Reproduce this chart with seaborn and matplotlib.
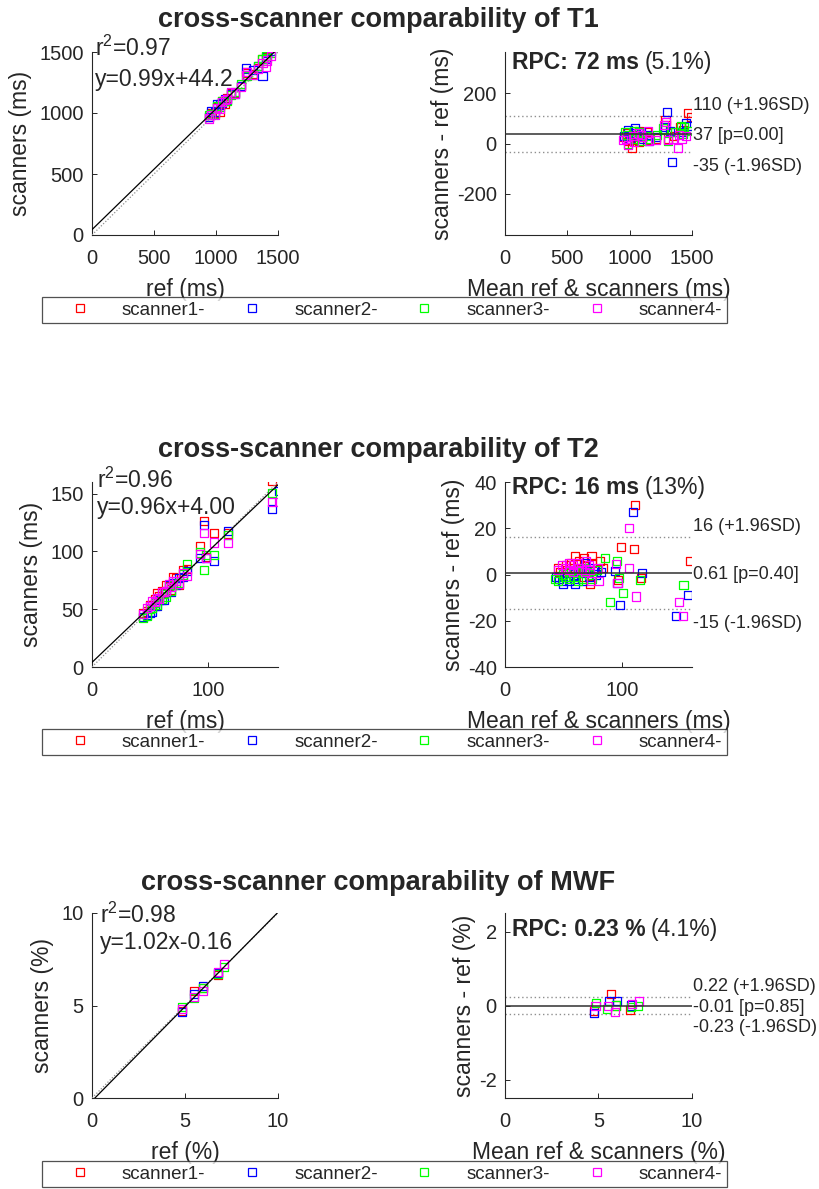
import numpy as np
import pandas as pd
import matplotlib
matplotlib.use("Agg")
import matplotlib.pyplot as plt
import matplotlib.transforms as mtransforms
from matplotlib.lines import Line2D
import seaborn as sns

# ---------------- data ----------------
scanners = ["scanner1-", "scanner2-", "scanner3-", "scanner4-"]
colors = ["#FF0000", "#0000FF", "#00FF00", "#FF00FF"]

# T1 (ms): reference value per ROI and scanner-minus-reference differences
t1_ref = [940, 960, 990, 1010, 1030, 1050, 1070, 1090, 1120, 1150,
          1200, 1240, 1250, 1300, 1340, 1375, 1400, 1410, 1440]
t1_s1 = [25, 40, 10, 35, -19, 50, 5, 30, 45, 15, 20, 95, 75, 20, 30, 65, 55, 120, 105]
t1_s2 = [30, 52, 20, 60, 40, 30, 45, 20, 35, 10, 25, 125, 65, 50, 45, -75, 45, 80, 70]
t1_s3 = [45, 35, 0, 50, 20, 45, 25, 10, 30, 20, 35, 60, 55, 10, 45, 70, 65, 40, 50]
t1_s4 = [15, 20, -5, 30, 5, 40, 35, 25, 50, 10, 15, 75, 85, 15, 20, 35, -19, 20, 30]

# T2 (ms)
t2_ref = [44, 47, 50, 52, 54, 56, 58, 60, 62, 64, 66, 68, 70, 72, 75, 78, 82,
          93, 96, 98, 105, 117, 155, 161]
t2_s1 = [3, 1, 4, 2, 5, 8, 3, 6, 2, 7, 4, -1, 8, 5, -4, 6, 3,
         12, 30, -2.5, 11, -1.5, 6, np.nan]
t2_s2 = [-1, -2, -3, -4, -1, -3, 0, -2, -4, 1, 5, -3, 3, -1, 2, 0, 1,
         1.5, 27, -3.5, -13, 0.5, -18, -9]
t2_s3 = [-2, -3, 0, -1, 1, -2, 2, -1, 1, -3, 3, -2, 1, 0, -2, 2, 7,
         6, -12, -1.5, -8, -2.5, -4.5, np.nan]
t2_s4 = [2, 4, 3, 5, 2, 4, 1, 5, 3, 2, 6, 1, 4, 2, -3, 3, -3,
         4.5, 20, -3.5, 2.7, -9.5, -12, -18]

# MWF (%)
mwf_ref = [4.85, 5.5, 5.95, 6.75, 7.1]
mwf_s1 = [-0.15, 0.30, 0.00, -0.12, np.nan]
mwf_s2 = [-0.21, 0.12, 0.12, 0.00, np.nan]
mwf_s3 = [0.07, -0.09, 0.00, -0.05, -0.02]
mwf_s4 = [-0.02, -0.02, -0.17, 0.05, 0.12]

metrics = ["T1", "T2", "MWF"]
units = ["ms", "ms", "%"]
refs = [t1_ref, t2_ref, mwf_ref]
diffs = [[t1_s1, t1_s2, t1_s3, t1_s4],
         [t2_s1, t2_s2, t2_s3, t2_s4],
         [mwf_s1, mwf_s2, mwf_s3, mwf_s4]]
r2_vals = ["0.97", "0.96", "0.98"]
fit_slope = [0.99, 0.96, 1.02]
fit_icpt = [44.2, 4.00, -0.16]
fit_text = ["y=0.99x+44.2", "y=0.96x+4.00", "y=1.02x-0.16"]
rpc_bold = ["RPC: 72 ms", "RPC: 16 ms", "RPC: 0.23 %"]
rpc_pct = ["(5.1%)", "(13%)", "(4.1%)"]
bias = [37, 0.61, -0.01]
loa_hi = [110, 16.3, 0.22]
loa_lo = [-35, -15.1, -0.23]
bias_text = ["37 [p=0.00]", "0.61 [p=0.40]", "-0.01 [p=0.85]"]
hi_text = ["110 (+1.96SD)", "16 (+1.96SD)", "0.22 (+1.96SD)"]
lo_text = ["-35 (-1.96SD)", "-15 (-1.96SD)", "-0.23 (-1.96SD)"]

# ---------------- layout / style ----------------
sns.set_theme(style="white")
plt.rcParams["font.family"] = ["Liberation Sans", "DejaVu Sans"]
plt.rcParams["axes.unicode_minus"] = False

W, H = 820, 1189
AX = "#262626"
fig = plt.figure(figsize=(W / 100, H / 100), dpi=100)


def add_ax(x0, y0, x1, y1):
    return fig.add_axes([x0 / W, 1 - y1 / H, (x1 - x0) / W, (y1 - y0) / H])


def hollow(ax):
    for c in ax.collections:
        fc = c.get_facecolors()
        c.set_edgecolors(fc)
        c.set_facecolors("none")


def style(ax, xlim, ylim, xticks, yticks):
    ax.set_xlim(xlim)
    ax.set_ylim(ylim)
    ax.set_xticks(xticks)
    ax.set_yticks(yticks)
    for s in ["top", "right"]:
        ax.spines[s].set_visible(False)
    for s in ["left", "bottom"]:
        ax.spines[s].set_color(AX)
        ax.spines[s].set_linewidth(0.8)
    ax.tick_params(direction="in", length=3.5, width=0.7, colors=AX,
                   labelsize=14.5, bottom=True, left=True)
    ax.tick_params(axis="x", pad=10)
    ax.tick_params(axis="y", pad=6)


rows_px = [(52, 235), (482, 667), (913, 1098)]
title_base = [27, 457, 890]
legend_box = [(295, 325), (727, 757), (1160, 1188)]
lims = [dict(x=(0, 1500), yl=(0, 1500), yr=(-365, 365), xt=[0, 500, 1000, 1500],
             ytl=[0, 500, 1000, 1500], ytr=[-200, 0, 200]),
        dict(x=(0, 160), yl=(0, 160), yr=(-40, 40), xt=[0, 100],
             ytl=[0, 50, 100, 150], ytr=[-40, -20, 0, 20, 40]),
        dict(x=(0, 10), yl=(0, 10), yr=(-2.5, 2.5), xt=[0, 5, 10],
             ytl=[0, 5, 10], ytr=[-2, 0, 2])]
r2_pos = [(0.016, 1.02), (0.027, 1.01), (0.043, 0.99)]
eq_pos = [(0.016, 0.847), (0.027, 0.86), (0.043, 0.84)]
rpc_y = [0.94, 0.968, 0.91]

for i, m in enumerate(metrics):
    u = units[i]
    ref = np.array(refs[i], float)
    recs = []
    for k, sc in enumerate(scanners):
        d = np.array(diffs[i][k], float)
        for r_, d_ in zip(ref, d):
            if np.isnan(d_):
                continue
            v_ = r_ + d_
            recs.append(dict(scanner=sc, ref=r_, value=v_, diff=d_, mean=(r_ + v_) / 2))
    df = pd.DataFrame(recs)
    y0, y1 = rows_px[i]
    L = lims[i]

    # ---- correlation panel ----
    axL = add_ax(92, y0, 278, y1)
    sns.scatterplot(data=df, x="ref", y="value", hue="scanner", hue_order=scanners,
                    palette=colors, marker="s", s=34, linewidth=0.9, legend=False,
                    ax=axL, zorder=3)
    hollow(axL)
    xs = np.array(L["x"], float)
    axL.plot(xs, xs, color="#8f8f8f", ls=(0, (1, 1.5)), lw=0.9, zorder=4)
    axL.plot(xs, fit_slope[i] * xs + fit_icpt[i], color="black", lw=0.9, zorder=5)
    style(axL, L["x"], L["yl"], L["xt"], L["ytl"])
    axL.set_xlabel(f"ref ({u})", fontsize=16.5, color=AX, labelpad=7)
    axL.set_ylabel(f"scanners ({u})", fontsize=16.5, color=AX, labelpad=5)
    axL.text(r2_pos[i][0], r2_pos[i][1], r"r$^\mathregular{2}$=" + r2_vals[i],
             transform=axL.transAxes, fontsize=16.5, va="center", ha="left")
    axL.text(eq_pos[i][0], eq_pos[i][1], fit_text[i], transform=axL.transAxes,
             fontsize=16.5, va="center", ha="left")

    # ---- Bland-Altman panel ----
    axR = add_ax(505, y0, 692, y1)
    sns.scatterplot(data=df, x="mean", y="diff", hue="scanner", hue_order=scanners,
                    palette=colors, marker="s", s=34, linewidth=0.9, legend=False,
                    ax=axR, zorder=3)
    hollow(axR)
    axR.axhline(bias[i], color="#303030", lw=1.1, zorder=4)
    axR.axhline(loa_hi[i], color="#8f8f8f", ls=(0, (1, 2)), lw=1.0, zorder=2)
    axR.axhline(loa_lo[i], color="#8f8f8f", ls=(0, (1, 2)), lw=1.0, zorder=2)
    style(axR, L["x"], L["yr"], L["xt"], L["ytr"])
    axR.set_xlabel(f"Mean ref & scanners ({u})", fontsize=16.5, color=AX, labelpad=7)
    axR.set_ylabel(f"scanners - ref ({u})", fontsize=16.5, color=AX, labelpad=2)
    t = axR.text(0.037, rpc_y[i], rpc_bold[i], transform=axR.transAxes, fontsize=16.5,
                 weight="bold", va="center", ha="left")
    axR.annotate(rpc_pct[i], xy=(1, 0.5), xycoords=t, xytext=(4, 0),
                 textcoords="offset points", va="center", ha="left", fontsize=16.5)
    tr = mtransforms.blended_transform_factory(axR.transAxes, axR.transData)
    for val, txt, off in [(loa_hi[i], hi_text[i], 7.5), (bias[i], bias_text[i], -1),
                          (loa_lo[i], lo_text[i], -10)]:
        axR.annotate(txt, xy=(1, val), xycoords=tr, xytext=(0.5, off),
                     textcoords="offset points", va="center", ha="left",
                     fontsize=13, color="#262626", annotation_clip=False)

    # ---- title ----
    fig.text(378 / W, 1 - title_base[i] / H, f"cross-scanner comparability of {m}",
             ha="center", va="baseline", fontsize=19.5, weight="bold")

    # ---- legend ----
    handles = [Line2D([], [], marker="s", ls="none", markersize=6,
                      markerfacecolor="none", markeredgecolor=c, markeredgewidth=0.9)
               for c in colors]
    lt, lb = legend_box[i]
    leg = fig.legend(handles, scanners, loc="center",
                     bbox_to_anchor=(42 / W, 1 - lb / H, 685 / W, (lb - lt) / H),
                     mode="expand", ncol=4, fontsize=13.5, frameon=True, fancybox=False,
                     handlelength=3.5, handletextpad=0.5, borderpad=0.25,
                     borderaxespad=0)
    leg.get_frame().set_edgecolor(AX)
    leg.get_frame().set_linewidth(0.9)
    for txt in leg.get_texts():
        txt.set_color(AX)

fig.savefig("out.png", dpi=100)
